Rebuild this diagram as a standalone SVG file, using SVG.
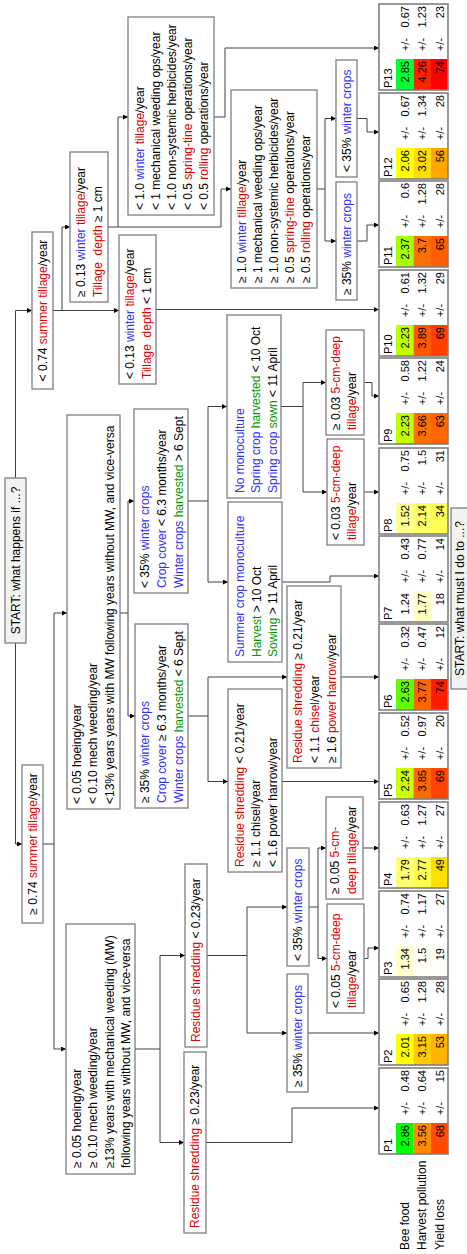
<svg xmlns="http://www.w3.org/2000/svg" width="467" height="1254" viewBox="0 0 467 1254">
<style>
.bx{fill:#fff;stroke:#7f7f7f;stroke-width:1.3}
.st{fill:#f2f2f2;stroke:#7f7f7f;stroke-width:1.3}
.tb{fill:none;stroke:#7f7f7f;stroke-width:1.6}
text{font-family:"Liberation Sans",Arial,sans-serif;font-size:12px;fill:#000}
.r{fill:#e00000}.b{fill:#3030ff}.g{fill:#009a00}
.n{font-size:11px}.e{text-anchor:end}.m{text-anchor:middle}
.cn{fill:none;stroke:#404040;stroke-width:1;marker-end:url(#ah)}
</style>
<defs>
<marker id="ah" viewBox="0 0 10 10" refX="10" refY="5" markerWidth="6" markerHeight="5" markerUnits="userSpaceOnUse" orient="auto"><path d="M0,0 L10,5 L0,10 z" fill="#000"/></marker>
</defs>
<g transform="translate(0,1254) rotate(-90)">
<g id="connectors">
<path class="cn" d="M611,15.5 H410 V22"/>
<path class="cn" d="M776,15.5 H943.5 V32"/>
<path class="cn" d="M410,43 V54 H205 V66"/>
<path class="cn" d="M410,54 H641 V67"/>
<path class="cn" d="M641,120 V128 H538 V135"/>
<path class="cn" d="M641,128 H753 V134"/>
<path class="cn" d="M205,135 V160 H111.5 V184"/>
<path class="cn" d="M205,160 H298.5 V185"/>
<path class="cn" d="M111.5,206 V292 H146 V379"/>
<path class="cn" d="M298.5,207 V247 H221 V287"/>
<path class="cn" d="M298.5,247 H347 V287"/>
<path class="cn" d="M221,308 V379"/>
<path class="cn" d="M347,309 V318 H295.5 V327"/>
<path class="cn" d="M347,318 H406 V326"/>
<path class="cn" d="M295.5,364 V368 H306 V379"/>
<path class="cn" d="M406,363 V379"/>
<path class="cn" d="M538,188 V208 H472.5 V228"/>
<path class="cn" d="M538,208 H577 V287"/>
<path class="cn" d="M472.5,282 V379"/>
<path class="cn" d="M577,341 V379"/>
<path class="cn" d="M753,188 V208 H672 V228"/>
<path class="cn" d="M753,208 H847.5 V227"/>
<path class="cn" d="M672,282 V330 H678 V379"/>
<path class="cn" d="M847.5,281 V303 H762 V327"/>
<path class="cn" d="M847.5,303 H871.5 V326"/>
<path class="cn" d="M762,364 V379"/>
<path class="cn" d="M871.5,364 V372 H858 V379"/>
<path class="cn" d="M943.5,53 V119"/>
<path class="cn" d="M943.5,62 H1027 V70"/>
<path class="cn" d="M944.5,156 V379"/>
<path class="cn" d="M1027,108 V118 H1137 V128"/>
<path class="cn" d="M1027,118 V221 H1065 V231"/>
<path class="cn" d="M1137,214 V225 H1206 V379"/>
<path class="cn" d="M1065,317 V325 H1135.5 V336"/>
<path class="cn" d="M1065,325 H1013 V336"/>
<path class="cn" d="M1135.5,357 V367 H1122 V379"/>
<path class="cn" d="M1013,357 V367 H1029 V379"/>
</g>
<g id="start1"><rect class="st" x="611" y="5" width="165" height="21"/><text class="m" x="693.5" y="19.5">START: what happens if ...?</text></g>
<g id="ge074"><rect class="bx" x="331" y="22" width="158" height="21"/><text class="m" x="410" y="36.5">≥ 0.74 <tspan class="r">summer tillage</tspan>/year</text></g>
<g id="lt074"><rect class="bx" x="865" y="32" width="157" height="21"/><text class="m" x="943.5" y="46.5">&lt; 0.74 <tspan class="r">summer tillage</tspan>/year</text></g>
<g id="hoe_ge"><rect class="bx" x="80" y="66" width="250" height="69"/>
<text x="86" y="80.5">≥ 0.05 hoeing/year</text><text x="86" y="97">≥ 0.10 mech weeding/year</text><text x="86" y="113.5">≥13% years with mechanical weeding (MW)</text><text x="86" y="130">following years without MW, and vice-versa</text></g>
<g id="hoe_lt"><rect class="bx" x="445" y="67" width="394" height="53"/>
<text x="450" y="80.5">&lt; 0.05 hoeing/year</text><text x="450" y="97">&lt; 0.10 mech weeding/year</text><text x="450" y="113.5">&lt;13% years years with MW following years without MW, and vice-versa</text></g>
<g id="wc_ge"><rect class="bx" x="446" y="135" width="184" height="53"/>
<text x="451" y="149">≥ 35% <tspan class="b">winter crops</tspan></text><text x="451" y="166"><tspan class="b">Crop cover</tspan> ≥ 6.3 months/year</text><text x="451" y="182.5"><tspan class="b">Winter crops</tspan><tspan class="g"> harvested</tspan> &lt; 6 Sept</text></g>
<g id="wc_lt"><rect class="bx" x="661" y="134" width="184" height="54"/>
<text x="666" y="149">&lt; 35% <tspan class="b">winter crops</tspan></text><text x="666" y="166"><tspan class="b">Crop cover</tspan> &lt; 6.3 months/year</text><text x="666" y="182.5"><tspan class="b">Winter crops</tspan><tspan class="g"> harvested</tspan> &gt; 6 Sept</text></g>
<g id="rs_ge023"><rect class="bx" x="21" y="184" width="181" height="22"/><text x="26" y="199"><tspan class="r">Residue shredding</tspan> ≥ 0.23/year</text></g>
<g id="rs_lt023"><rect class="bx" x="207" y="185" width="183" height="22"/><text x="212" y="200"><tspan class="r">Residue shredding</tspan> &lt; 0.23/year</text></g>
<g id="wc35_ge_l"><rect class="bx" x="162" y="287" width="118" height="21"/><text x="167" y="301.5">≥ 35% <tspan class="b">winter crops</tspan></text></g>
<g id="wc35_lt_l"><rect class="bx" x="288" y="287" width="118" height="22"/><text x="293" y="302">&lt; 35% <tspan class="b">winter crops</tspan></text></g>
<g id="t5_lt005"><rect class="bx" x="241" y="327" width="109" height="37"/><text x="246" y="339.5">&lt; 0.05 <tspan class="r">5-cm-deep</tspan></text><text x="246" y="356"><tspan class="r">tillage</tspan>/year</text></g>
<g id="t5_ge005"><rect class="bx" x="355" y="326" width="102" height="37"/><text x="360" y="339">≥ 0.05 <tspan class="r">5-cm-</tspan></text><text x="360" y="356"><tspan class="r">deep tillage</tspan>/year</text></g>
<g id="rs_lt021"><rect class="bx" x="382" y="228" width="183" height="54"/><text x="387" y="243.5"><tspan class="r">Residue shredding</tspan> &lt; 0.21/year</text><text x="387" y="260">≥ 1.1 chisel/year</text><text x="387" y="277">&lt; 1.6 power harrow/year</text></g>
<g id="rs_ge021"><rect class="bx" x="486" y="287" width="182" height="54"/><text x="491" y="302"><tspan class="r">Residue shredding</tspan> ≥ 0.21/year</text><text x="491" y="319">&lt; 1.1 <tspan class="r">chisel</tspan>/year</text><text x="491" y="336">≥ 1.6 <tspan class="r">power harrow</tspan>/year</text></g>
<g id="summono"><rect class="bx" x="592" y="228" width="160" height="54"/><text x="597" y="244"><tspan class="b">Summer crop monoculture</tspan></text><text x="597" y="260.5"><tspan class="g">Harvest</tspan> &gt; 10 Oct</text><text x="597" y="277"><tspan class="g">Sowing</tspan> &gt; 11 April</text></g>
<g id="nomono"><rect class="bx" x="756" y="227" width="183" height="54"/><text x="761" y="243.5"><tspan class="b">No monoculture</tspan></text><text x="761" y="260"><tspan class="b">Spring crop</tspan><tspan class="g"> harvested</tspan> &lt; 10 Oct</text><text x="761" y="276.5"><tspan class="b">Spring crop</tspan><tspan class="g"> sown</tspan> &lt; 11 April</text></g>
<g id="t5_lt003"><rect class="bx" x="709" y="327" width="106" height="37"/><text x="714" y="339.5">&lt; 0.03 <tspan class="r">5-cm-deep</tspan></text><text x="714" y="356"><tspan class="r">tillage</tspan>/year</text></g>
<g id="t5_ge003"><rect class="bx" x="819" y="326" width="105" height="38"/><text x="824" y="339.5">≥ 0.03 <tspan class="r">5-cm-deep</tspan></text><text x="824" y="356"><tspan class="r">tillage</tspan>/year</text></g>
<g id="wt_ge013"><rect class="bx" x="952" y="70" width="150" height="38"/><text x="957" y="85">≥ 0.13 <tspan class="b">winter</tspan><tspan class="r"> tillage</tspan>/year</text><text x="957" y="102"><tspan class="r">Tillage&#160; depth</tspan> ≥ 1 cm</text></g>
<g id="wt_lt013"><rect class="bx" x="870" y="119" width="149" height="37"/><text x="875" y="134">&lt; 0.13 <tspan class="b">winter</tspan><tspan class="r"> tillage</tspan>/year</text><text x="875" y="151"><tspan class="r">Tillage&#160; depth</tspan> &lt; 1 cm</text></g>
<g id="lt10"><rect class="bx" x="1039" y="128" width="198" height="86"/>
<text x="1044" y="144">&lt; 1.0 <tspan class="b">winter</tspan><tspan class="r"> tillage</tspan>/year</text><text x="1044" y="160">&lt; 1 mechanical weeding ops/year</text><text x="1044" y="176">&lt; 1.0 non-systemic herbicides/year</text><text x="1044" y="192">&lt; 0.5 <tspan class="r">spring-tine</tspan> operations/year</text><text x="1044" y="207.5">&lt; 0.5 <tspan class="r">rolling</tspan> operations/year</text></g>
<g id="ge10"><rect class="bx" x="966" y="231" width="198" height="86"/>
<text x="971" y="246">≥ 1.0 <tspan class="b">winter</tspan><tspan class="r"> tillage</tspan>/year</text><text x="971" y="262">≥ 1 mechanical weeding ops/year</text><text x="971" y="278">≥ 1.0 non-systemic herbicides/year</text><text x="971" y="294">≥ 0.5 <tspan class="r">spring-tine</tspan> operations/year</text><text x="971" y="310">≥ 0.5 <tspan class="r">rolling</tspan> operations/year</text></g>
<g id="wc35_lt_r"><rect class="bx" x="1077" y="336" width="117" height="21"/><text x="1082" y="350.5">&lt; 35% <tspan class="b">winter crops</tspan></text></g>
<g id="wc35_ge_r"><rect class="bx" x="954" y="336" width="118" height="21"/><text x="959" y="350.5">≥ 35% <tspan class="b">winter crops</tspan></text></g>
<g id="start2"><rect class="st" x="565" y="451" width="181" height="24"/><text class="m" x="655.5" y="464">START: what must I do to ...?</text></g>
<g id="legend"><text x="4" y="408.5">Bee food</text><text x="4" y="426">Harvest pollution</text><text x="4" y="443.5">Yield loss</text></g>
<g id="P1" transform="translate(100,379)"><rect x="0" y="17" width="31" height="17.5" fill="#00ff00"/><rect x="0" y="34.5" width="31" height="17.5" fill="#ff8c00"/><rect x="0" y="52" width="31" height="17" fill="#ff4a00"/><rect class="tb" width="86" height="69"/><text class="n" x="2" y="12.5">P1</text><text class="n e" x="29" y="29.5">2.86</text><text class="n e" x="29" y="47">3.56</text><text class="n e" x="29" y="64.5">68</text><text class="n m" x="45.5" y="29.5">+/-</text><text class="n m" x="45.5" y="47">+/-</text><text class="n m" x="45.5" y="64.5">+/-</text><text class="n e" x="84" y="29.5">0.48</text><text class="n e" x="84" y="47">0.64</text><text class="n e" x="84" y="64.5">15</text></g>
<g id="P2" transform="translate(189,379)"><rect x="0" y="17" width="31" height="17.5" fill="#ffff00"/><rect x="0" y="34.5" width="31" height="17.5" fill="#ffc800"/><rect x="0" y="52" width="31" height="17" fill="#ffb400"/><rect class="tb" width="86" height="69"/><text class="n" x="2" y="12.5">P2</text><text class="n e" x="29" y="29.5">2.01</text><text class="n e" x="29" y="47">3.15</text><text class="n e" x="29" y="64.5">53</text><text class="n m" x="45.5" y="29.5">+/-</text><text class="n m" x="45.5" y="47">+/-</text><text class="n m" x="45.5" y="64.5">+/-</text><text class="n e" x="84" y="29.5">0.65</text><text class="n e" x="84" y="47">1.28</text><text class="n e" x="84" y="64.5">28</text></g>
<g id="P3" transform="translate(277,379)"><rect x="0" y="17" width="31" height="17.5" fill="#ffffcc"/><rect x="0" y="34.5" width="31" height="17.5" fill="#fffff5"/><rect x="0" y="52" width="31" height="17" fill="#fffffa"/><rect class="tb" width="86" height="69"/><text class="n" x="2" y="12.5">P3</text><text class="n e" x="29" y="29.5">1.34</text><text class="n e" x="29" y="47">1.5</text><text class="n e" x="29" y="64.5">19</text><text class="n m" x="45.5" y="29.5">+/-</text><text class="n m" x="45.5" y="47">+/-</text><text class="n m" x="45.5" y="64.5">+/-</text><text class="n e" x="84" y="29.5">0.74</text><text class="n e" x="84" y="47">1.17</text><text class="n e" x="84" y="64.5">27</text></g>
<g id="P4" transform="translate(366,379)"><rect x="0" y="17" width="31" height="17.5" fill="#ffff70"/><rect x="0" y="34.5" width="31" height="17.5" fill="#ffff4d"/><rect x="0" y="52" width="31" height="17" fill="#ffe100"/><rect class="tb" width="86" height="69"/><text class="n" x="2" y="12.5">P4</text><text class="n e" x="29" y="29.5">1.79</text><text class="n e" x="29" y="47">2.77</text><text class="n e" x="29" y="64.5">49</text><text class="n m" x="45.5" y="29.5">+/-</text><text class="n m" x="45.5" y="47">+/-</text><text class="n m" x="45.5" y="64.5">+/-</text><text class="n e" x="84" y="29.5">0.63</text><text class="n e" x="84" y="47">1.27</text><text class="n e" x="84" y="64.5">27</text></g>
<g id="P5" transform="translate(455,379)"><rect x="0" y="17" width="31" height="17.5" fill="#ccff00"/><rect x="0" y="34.5" width="31" height="17.5" fill="#ff6800"/><rect x="0" y="52" width="31" height="17" fill="#ff4400"/><rect class="tb" width="86" height="69"/><text class="n" x="2" y="12.5">P5</text><text class="n e" x="29" y="29.5">2.24</text><text class="n e" x="29" y="47">3.85</text><text class="n e" x="29" y="64.5">69</text><text class="n m" x="45.5" y="29.5">+/-</text><text class="n m" x="45.5" y="47">+/-</text><text class="n m" x="45.5" y="64.5">+/-</text><text class="n e" x="84" y="29.5">0.52</text><text class="n e" x="84" y="47">0.97</text><text class="n e" x="84" y="64.5">20</text></g>
<g id="P6" transform="translate(544,379)"><rect x="0" y="17" width="31" height="17.5" fill="#60ff00"/><rect x="0" y="34.5" width="31" height="17.5" fill="#ff6600"/><rect x="0" y="52" width="31" height="17" fill="#ff1c00"/><rect class="tb" width="86" height="69"/><text class="n" x="2" y="12.5">P6</text><text class="n e" x="29" y="29.5">2.63</text><text class="n e" x="29" y="47">3.77</text><text class="n e" x="29" y="64.5">74</text><text class="n m" x="45.5" y="29.5">+/-</text><text class="n m" x="45.5" y="47">+/-</text><text class="n m" x="45.5" y="64.5">+/-</text><text class="n e" x="84" y="29.5">0.32</text><text class="n e" x="84" y="47">0.47</text><text class="n e" x="84" y="64.5">12</text></g>
<g id="P7" transform="translate(632,379)"><rect x="0" y="34.5" width="31" height="17.5" fill="#ffffc4"/><rect class="tb" width="86" height="69"/><text class="n" x="2" y="12.5">P7</text><text class="n e" x="29" y="29.5">1.24</text><text class="n e" x="29" y="47">1.77</text><text class="n e" x="29" y="64.5">18</text><text class="n m" x="45.5" y="29.5">+/-</text><text class="n m" x="45.5" y="47">+/-</text><text class="n m" x="45.5" y="64.5">+/-</text><text class="n e" x="84" y="29.5">0.43</text><text class="n e" x="84" y="47">0.77</text><text class="n e" x="84" y="64.5">14</text></g>
<g id="P8" transform="translate(720,379)"><rect x="0" y="17" width="31" height="17.5" fill="#ffff90"/><rect x="0" y="34.5" width="31" height="17.5" fill="#ffff66"/><rect x="0" y="52" width="31" height="17" fill="#ffff55"/><rect class="tb" width="86" height="69"/><text class="n" x="2" y="12.5">P8</text><text class="n e" x="29" y="29.5">1.52</text><text class="n e" x="29" y="47">2.14</text><text class="n e" x="29" y="64.5">34</text><text class="n m" x="45.5" y="29.5">+/-</text><text class="n m" x="45.5" y="47">+/-</text><text class="n m" x="45.5" y="64.5">+/-</text><text class="n e" x="84" y="29.5">0.75</text><text class="n e" x="84" y="47">1.5</text><text class="n e" x="84" y="64.5">31</text></g>
<g id="P9" transform="translate(810,379)"><rect x="0" y="17" width="31" height="17.5" fill="#c4ff00"/><rect x="0" y="34.5" width="31" height="17.5" fill="#ff7000"/><rect x="0" y="52" width="31" height="17" fill="#ff6600"/><rect class="tb" width="86" height="69"/><text class="n" x="2" y="12.5">P9</text><text class="n e" x="29" y="29.5">2.23</text><text class="n e" x="29" y="47">3.66</text><text class="n e" x="29" y="64.5">63</text><text class="n m" x="45.5" y="29.5">+/-</text><text class="n m" x="45.5" y="47">+/-</text><text class="n m" x="45.5" y="64.5">+/-</text><text class="n e" x="84" y="29.5">0.58</text><text class="n e" x="84" y="47">1.22</text><text class="n e" x="84" y="64.5">24</text></g>
<g id="P10" transform="translate(898,379)"><rect x="0" y="17" width="31" height="17.5" fill="#c0ff00"/><rect x="0" y="34.5" width="31" height="17.5" fill="#ff5800"/><rect x="0" y="52" width="31" height="17" fill="#ff3e00"/><rect class="tb" width="86" height="69"/><text class="n" x="2" y="12.5">P10</text><text class="n e" x="29" y="29.5">2.23</text><text class="n e" x="29" y="47">3.89</text><text class="n e" x="29" y="64.5">69</text><text class="n m" x="45.5" y="29.5">+/-</text><text class="n m" x="45.5" y="47">+/-</text><text class="n m" x="45.5" y="64.5">+/-</text><text class="n e" x="84" y="29.5">0.61</text><text class="n e" x="84" y="47">1.32</text><text class="n e" x="84" y="64.5">29</text></g>
<g id="P11" transform="translate(987,379)"><rect x="0" y="17" width="31" height="17.5" fill="#a8ff00"/><rect x="0" y="34.5" width="31" height="17.5" fill="#ff6e00"/><rect x="0" y="52" width="31" height="17" fill="#ff5e00"/><rect class="tb" width="86" height="69"/><text class="n" x="2" y="12.5">P11</text><text class="n e" x="29" y="29.5">2.37</text><text class="n e" x="29" y="47">3.7</text><text class="n e" x="29" y="64.5">65</text><text class="n m" x="45.5" y="29.5">+/-</text><text class="n m" x="45.5" y="47">+/-</text><text class="n m" x="45.5" y="64.5">+/-</text><text class="n e" x="84" y="29.5">0.6</text><text class="n e" x="84" y="47">1.28</text><text class="n e" x="84" y="64.5">28</text></g>
<g id="P12" transform="translate(1075,379)"><rect x="0" y="17" width="31" height="17.5" fill="#ffff00"/><rect x="0" y="34.5" width="31" height="17.5" fill="#ffdc00"/><rect x="0" y="52" width="31" height="17" fill="#ffa500"/><rect class="tb" width="86" height="69"/><text class="n" x="2" y="12.5">P12</text><text class="n e" x="29" y="29.5">2.06</text><text class="n e" x="29" y="47">3.02</text><text class="n e" x="29" y="64.5">56</text><text class="n m" x="45.5" y="29.5">+/-</text><text class="n m" x="45.5" y="47">+/-</text><text class="n m" x="45.5" y="64.5">+/-</text><text class="n e" x="84" y="29.5">0.67</text><text class="n e" x="84" y="47">1.34</text><text class="n e" x="84" y="64.5">28</text></g>
<g id="P13" transform="translate(1164,379)"><rect x="0" y="17" width="31" height="17.5" fill="#00ff33"/><rect x="0" y="34.5" width="31" height="17.5" fill="#ff2200"/><rect x="0" y="52" width="31" height="17" fill="#ff0000"/><rect class="tb" width="86" height="69"/><text class="n" x="2" y="12.5">P13</text><text class="n e" x="29" y="29.5">2.85</text><text class="n e" x="29" y="47">4.26</text><text class="n e" x="29" y="64.5">74</text><text class="n m" x="45.5" y="29.5">+/-</text><text class="n m" x="45.5" y="47">+/-</text><text class="n m" x="45.5" y="64.5">+/-</text><text class="n e" x="84" y="29.5">0.67</text><text class="n e" x="84" y="47">1.23</text><text class="n e" x="84" y="64.5">23</text></g>
</g>
</svg>
